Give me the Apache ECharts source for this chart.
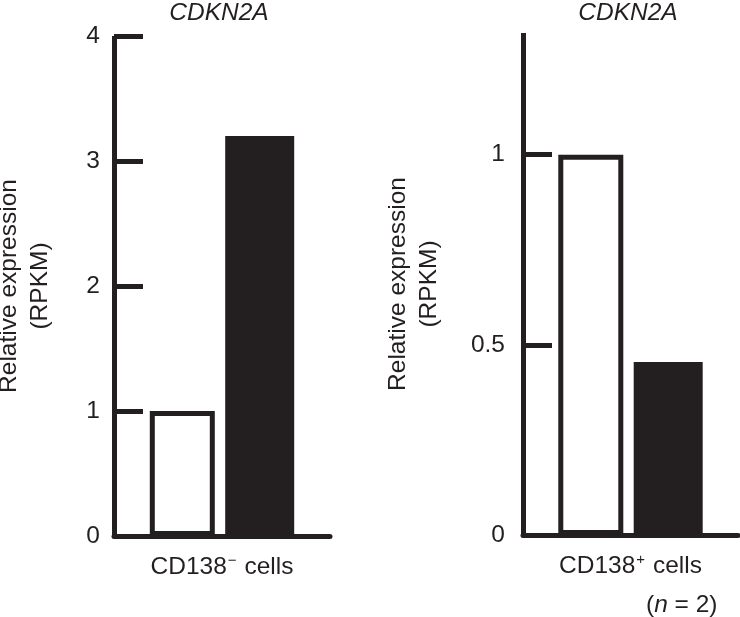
<!DOCTYPE html>
<html>
<head>
<meta charset="utf-8">
<script src="https://cdn.jsdelivr.net/npm/echarts@6/dist/echarts.min.js"></script>
<style>html,body{margin:0;padding:0;background:#fff;}#c{width:740px;height:617px;}</style>
</head>
<body>
<div id="c"></div>
<script>
const geneTitle = 'CDKN2A';
const leftCategory = ['CD138− cells'];
const rightCategory = ['CD138+ cells'];
const seriesNames = ['Control', 'Treated'];
const leftValues = [1.0, 3.2];
const rightValues = [1.0, 0.455];
const leftTicks = [0, 1, 2, 3, 4];
const rightTicks = [0, 0.5, 1];
const yName = 'Relative expression\n(RPKM)';

const INK = '#231f20';
const FONT = 'Liberation Sans, Arial, Helvetica, sans-serif';
const FS = 24.5;

function catLabel(v) {
  const sign = v.indexOf('−') >= 0 ? '−' : '+';
  const parts = v.split(sign);
  return '{b|' + parts[0] + '}{s|' + sign + '}{b|' + parts[1] + '}';
}
const richLabel = {
  b: { fontSize: FS, fontFamily: FONT, color: INK, lineHeight: 28 },
  s: { fontSize: 15, fontFamily: FONT, color: INK, verticalAlign: 'top', lineHeight: 28, padding: [0, 1, 10, 1] }
};

function yAxisCfg(grid, max, ticks, gap, margin) {
  return {
    type: 'value', gridIndex: grid, min: 0, max: max,
    name: yName, nameLocation: 'middle', nameRotate: 90, nameGap: gap,
    nameTextStyle: { fontSize: FS, fontFamily: FONT, color: INK, lineHeight: 31 },
    axisLine: { show: true, lineStyle: { color: INK, width: 5, cap: 'butt' } },
    axisTick: { show: true, inside: true, length: 29, customValues: ticks, lineStyle: { color: INK, width: 5 } },
    axisLabel: { customValues: ticks, fontSize: FS, fontFamily: FONT, color: INK, margin: margin },
    splitLine: { show: false }
  };
}
function xAxisCfg(grid, cats) {
  return {
    type: 'category', gridIndex: grid, data: cats,
    axisLine: { show: true, lineStyle: { color: INK, width: 5 } },
    axisTick: { show: false },
    axisLabel: { margin: 17, formatter: catLabel, rich: richLabel }
  };
}
function bars(xi, yi, vals) {
  return [
    { name: seriesNames[0], type: 'bar', xAxisIndex: xi, yAxisIndex: yi, data: [vals[0]], barWidth: 65, barGap: '16%',
      itemStyle: { color: '#ffffff', borderColor: INK, borderWidth: 5 }, silent: true },
    { name: seriesNames[1], type: 'bar', xAxisIndex: xi, yAxisIndex: yi, data: [vals[1]], barWidth: 69, barGap: '16%',
      itemStyle: { color: INK }, silent: true }
  ];
}

const chart = echarts.init(document.getElementById('c'), null, { renderer: 'canvas' });
chart.setOption({
  animation: false,
  backgroundColor: '#fff',
  title: [
    { text: geneTitle, left: 219, top: 1, padding: 0, textAlign: 'center',
      textStyle: { fontSize: FS, fontStyle: 'italic', fontWeight: 'normal', fontFamily: FONT, color: INK } },
    { text: geneTitle, left: 628, top: 1, padding: 0, textAlign: 'center',
      textStyle: { fontSize: FS, fontStyle: 'italic', fontWeight: 'normal', fontFamily: FONT, color: INK } },
    { text: '{a|(}{i|n}{a| = 2)}', left: 641, top: 588,
      textStyle: { fontWeight: 'normal', rich: {
        a: { fontSize: FS, fontFamily: FONT, color: INK, fontWeight: 'normal' },
        i: { fontSize: FS, fontFamily: FONT, color: INK, fontStyle: 'italic', fontWeight: 'normal' }
      } } }
  ],
  grid: [
    { left: 114, top: 36, width: 216, bottom: 81, containLabel: false, outerBoundsMode: 'none' },
    { left: 523, top: 33, width: 215, bottom: 82, containLabel: false, outerBoundsMode: 'none' }
  ],
  xAxis: [xAxisCfg(0, leftCategory), xAxisCfg(1, rightCategory)],
  yAxis: [yAxisCfg(0, 4, leftTicks, 58, 14), yAxisCfg(1, 1.32, rightTicks, 78, 18)],
  series: bars(0, 0, leftValues).concat(bars(1, 1, rightValues))
});
</script>
</body>
</html>
